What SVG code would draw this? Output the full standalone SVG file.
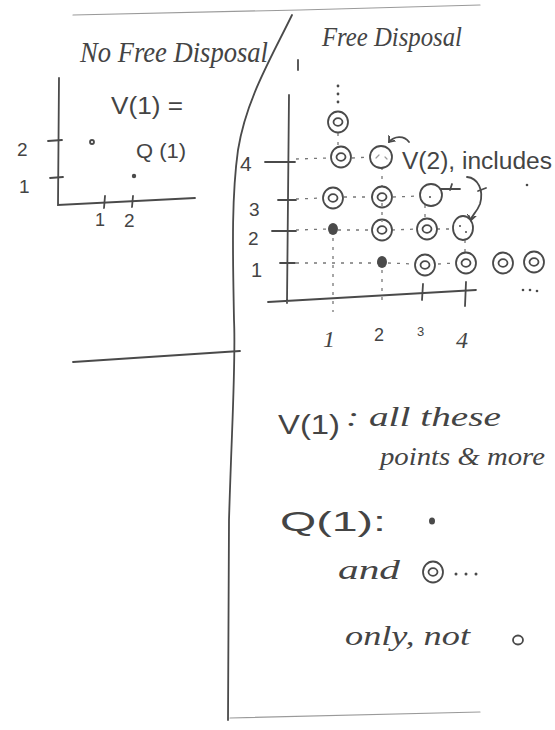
<svg xmlns="http://www.w3.org/2000/svg" width="555" height="730" viewBox="0 0 555 730">
<style>
.ln{fill:none;stroke:#4a4a4a;stroke-width:1.8;stroke-linecap:round}
.lt{fill:none;stroke:#9a9a9a;stroke-width:1.2;stroke-linecap:round}
.da{fill:none;stroke:#777;stroke-width:1.3;stroke-dasharray:3 6}
.t{font-family:"Liberation Serif",serif;font-style:italic;fill:#444}
.h{font-family:"Liberation Sans",sans-serif;fill:#444}
.dot{fill:#4a4a4a}
</style>
<defs>
<g id="dc"><ellipse cx="0" cy="0" rx="10" ry="10.5" class="ln"/><ellipse cx="0" cy="0" rx="4.5" ry="3.8" class="ln"/></g>
<marker id="ah" markerWidth="10" markerHeight="10" refX="5" refY="5" orient="auto" markerUnits="userSpaceOnUse"><path d="M0,1 L5,5 L0,9" class="ln"/></marker>
</defs>
<rect width="555" height="730" fill="#fff"/>
<g id="frame">
<path class="lt" d="M73,15 L300,10 L480,5"/>
<path class="ln" d="M292,15 C270,60 246,100 238,150 C231,200 233,260 234,320 C236,360 232,420 229,520 L228,720"/>
<path class="ln" d="M73,362 L240,351"/>
<path class="lt" d="M230,718 L480,712"/>
</g>
<g id="left-graph">
<text class="t" x="80" y="62" font-size="30" textLength="188" lengthAdjust="spacingAndGlyphs">No Free Disposal</text>
<path class="ln" d="M59,78 L58,205 L195,198"/>
<path class="ln" d="M48,141 L62,140 M50,178 L63,177 M105,196 L104,208 M133,196 L132,207"/>
<text class="h" x="17" y="156" font-size="19">2</text>
<text class="h" x="19" y="193" font-size="19">1</text>
<text class="h" x="95" y="226" font-size="18">1</text>
<text class="h" x="124" y="227" font-size="19">2</text>
<circle cx="92" cy="142" r="2" class="ln"/>
<circle cx="134" cy="176" r="2.2" class="dot"/>
<text class="h" x="111" y="114" font-size="23" textLength="72" lengthAdjust="spacingAndGlyphs">V(1) =</text>
<text class="h" x="136" y="158" font-size="20" textLength="50" lengthAdjust="spacingAndGlyphs">Q (1)</text>
</g>
<g id="right-graph">
<text class="t" x="322" y="46" font-size="27" textLength="140" lengthAdjust="spacingAndGlyphs">Free Disposal</text>
<path class="ln" d="M298,60 L298,70"/>
<path class="ln" d="M289,95 L287,303 M268,302 L476,290"/>
<path class="ln" d="M265,162 L295,162 M278,200 L296,200 M272,231 L296,231 M280,263 L295,263 M423,284 L422,300 M466,282 L465,306"/>
<text class="h" x="240" y="171" font-size="21">4</text>
<text class="h" x="249" y="216" font-size="19">3</text>
<text class="h" x="248" y="245" font-size="19">2</text>
<text class="h" x="251" y="277" font-size="20">1</text>
<text class="t" x="323" y="347" font-size="24">1</text>
<text class="h" x="374" y="341" font-size="18">2</text>
<text class="h" x="417" y="336" font-size="13">3</text>
<text class="t" x="456" y="348" font-size="24">4</text>
<path class="da" d="M296,159 L330,158 M352,158 L370,157 M296,199 L322,198 M344,197 L372,197 M393,197 L420,196 M296,230 L330,229 M338,230 L372,230 M392,230 L417,229 M437,229 L453,229 M296,263 L378,263 M388,263 L415,264 M438,264 L455,263 M333,238 L333,312 M382,203 L382,222 M382,270 L382,300 M382,167 L382,187 M425,205 L425,218 M465,240 L465,252 M338,133 L338,147"/>
<circle cx="338" cy="86" r="1.4" class="dot"/>
<circle cx="338" cy="94" r="1.4" class="dot"/>
<circle cx="338" cy="102" r="1.4" class="dot"/>
<use href="#dc" x="338" y="122"/>
<use href="#dc" x="341" y="157"/>
<circle cx="381" cy="157" r="11" class="ln"/>
<path class="lt" d="M376,158 l3,-3 M385,157 l2,2"/>
<use href="#dc" x="333" y="198"/>
<use href="#dc" x="382" y="197"/>
<ellipse cx="431" cy="195" rx="11" ry="11" class="ln"/>
<circle cx="430" cy="197" r="1" class="dot"/>
<path class="ln" d="M441,189 L460,189 M452,184 L450,190"/>
<ellipse cx="333" cy="229" rx="5" ry="6" class="dot"/>
<use href="#dc" x="382" y="230"/>
<use href="#dc" x="427" y="229"/>
<ellipse cx="463" cy="228" rx="10" ry="12" class="ln"/>
<circle cx="460" cy="226" r="1" class="dot"/>
<circle cx="466" cy="232" r="1" class="dot"/>
<ellipse cx="382" cy="262" rx="5" ry="6" class="dot"/>
<use href="#dc" x="425" y="265"/>
<use href="#dc" x="466" y="263"/>
<use href="#dc" x="503" y="263"/>
<use href="#dc" x="534" y="262"/>
<circle cx="523" cy="290" r="1.3" class="dot"/>
<circle cx="530" cy="290" r="1.3" class="dot"/>
<circle cx="537" cy="291" r="1.3" class="dot"/>
<path class="ln" d="M409,142 C404,135 394,136 389,142" marker-end="url(#ah)"/>
<text class="h" x="402" y="169" font-size="23" textLength="150" lengthAdjust="spacingAndGlyphs">V(2), includes</text>
<path class="ln" d="M467,177 C478,178 484,190 480,204 C476,214 472,214 471,220" marker-end="url(#ah)"/>
<path class="ln" d="M478,191 L486,188"/>
<circle cx="527" cy="185" r="1.3" class="dot"/>
</g>
<g id="notes">
<text class="h" x="278" y="434" font-size="28" textLength="62" lengthAdjust="spacingAndGlyphs">V(1)</text>
<text class="t" x="346" y="426" font-size="27" textLength="155" lengthAdjust="spacingAndGlyphs">: all these</text>
<text class="t" x="380" y="465" font-size="26" textLength="165" lengthAdjust="spacingAndGlyphs">points &amp; more</text>
<text class="h" x="280" y="531" font-size="28" textLength="106" lengthAdjust="spacingAndGlyphs">Q(1):</text>
<ellipse cx="432" cy="521" rx="3" ry="3.5" class="dot"/>
<text class="t" x="338" y="579" font-size="27" textLength="62" lengthAdjust="spacingAndGlyphs">and</text>
<use href="#dc" x="433" y="572"/>
<circle cx="456" cy="574" r="1.5" class="dot"/>
<circle cx="466" cy="574" r="1.5" class="dot"/>
<circle cx="476" cy="574" r="1.5" class="dot"/>
<text class="t" x="345" y="645" font-size="27" textLength="125" lengthAdjust="spacingAndGlyphs">only, not</text>
<ellipse cx="518" cy="640" rx="5" ry="4.5" class="ln"/>
</g>
</svg>
